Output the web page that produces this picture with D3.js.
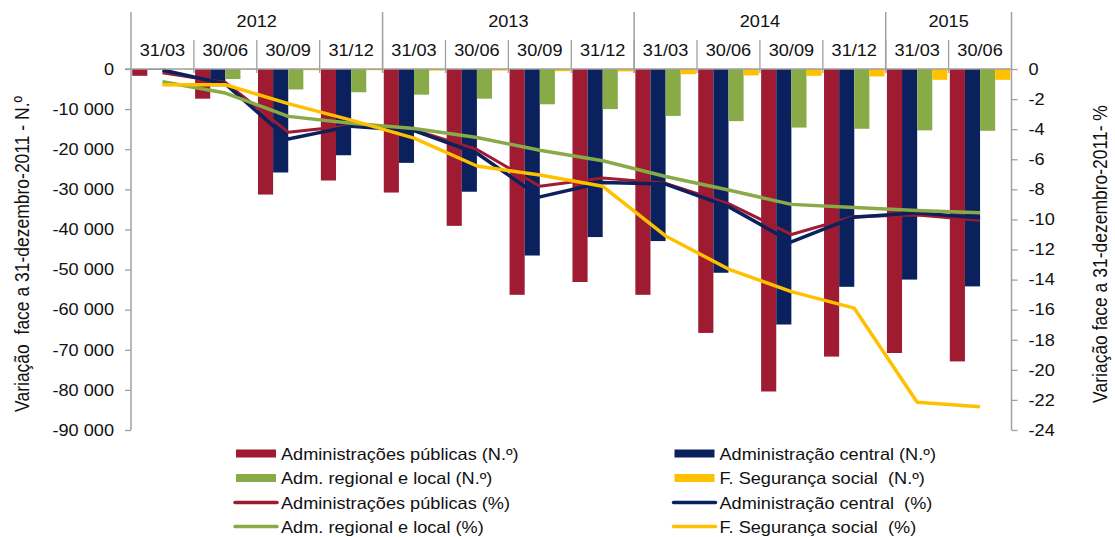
<!DOCTYPE html>
<html>
<head>
<meta charset="utf-8">
<script src="https://cdn.jsdelivr.net/npm/d3@7"></script>
<style>
  body { margin: 0; background: #fff; }
  svg { display: block; font-family: "Liberation Sans", Arial, sans-serif; }
  svg text { white-space: pre; }
</style>
</head>
<body>
<svg width="1115" height="537"></svg>
<script>
// categories (quarters) and year groups
var quarters = ["31/03","30/06","30/09","31/12","31/03","30/06","30/09","31/12","31/03","30/06","30/09","31/12","31/03","30/06"];
var years = ["2012","2013","2014","2015"];
var yearSpans = [4, 4, 4, 2];

// N.º (left axis, bars)
var adminPublicasN = [-1700, -7400, -31300, -27800, -30800, -39100, -56300, -53100, -56300, -65800, -80400, -71700, -70800, -72900];
var adminCentralN  = [-150, -4300, -25800, -21500, -23400, -30600, -46500, -41900, -42900, -50800, -63700, -54300, -52500, -54200];
var admRegionalN   = [-50, -2500, -5100, -5800, -6400, -7400, -8800, -10000, -11700, -13000, -14600, -14900, -15300, -15400];
var segSocialN     = [-100, -200, -300, -300, -400, -400, -550, -600, -1300, -1600, -1700, -1850, -2700, -2700];

// % (right axis, lines)
var adminPublicasPct = [-0.25, -0.9, -4.2, -3.75, -4.05, -5.35, -7.8, -7.25, -7.6, -8.95, -11.0, -9.8, -9.7, -10.05];
var adminCentralPct  = [-0.07, -1.0, -4.65, -3.8, -4.1, -5.6, -8.5, -7.55, -7.65, -9.15, -11.5, -9.85, -9.55, -9.9];
var admRegionalPct   = [-0.85, -1.6, -3.15, -3.6, -3.95, -4.55, -5.4, -6.1, -7.15, -8.05, -9.0, -9.2, -9.4, -9.55];
var segSocialPct     = [-1.05, -1.05, -2.3, -3.4, -4.6, -6.45, -7.05, -7.8, -11.1, -13.3, -14.8, -15.9, -22.15, -22.45];

var leftTicks = [0, -10000, -20000, -30000, -40000, -50000, -60000, -70000, -80000, -90000];
var rightTicks = [0, -2, -4, -6, -8, -10, -12, -14, -16, -18, -20, -22, -24];

var barSeries = [
  {name: "Administrações públicas (N.º)", values: adminPublicasN, color: "#9e1b32"},
  {name: "Administração central (N.º)", values: adminCentralN, color: "#0b215d"},
  {name: "Adm. regional e local (N.º)", values: admRegionalN, color: "#89ab47"},
  {name: "F. Segurança social  (N.º)", values: segSocialN, color: "#ffc000"}
];
var lineSeries = [
  {name: "Administrações públicas (%)", values: adminPublicasPct, color: "#9e1b32", width: 3},
  {name: "Administração central  (%)", values: adminCentralPct, color: "#0b215d", width: 3.5},
  {name: "Adm. regional e local (%)", values: admRegionalPct, color: "#89ab47", width: 3.5},
  {name: "F. Segurança social  (%)", values: segSocialPct, color: "#ffc000", width: 3.5}
];

var plot = {left: 131, right: 1011.5, top: 69, bottom: 430, header: 12};
var axisColor = "#a0a0a0";
var fontSize = 16.5;
var stretch = 1.1;

var svg = d3.select("svg");
var idx = d3.range(quarters.length);

var xScale = d3.scaleBand().domain(idx).range([plot.left, plot.right]).padding(0);
var inner = d3.scaleBand().domain(d3.range(barSeries.length))
  .range([0, xScale.bandwidth()]).paddingOuter(0.04 * 4 / 2).paddingInner(0);
var yLeft = d3.scaleLinear().domain([-90000, 0]).range([plot.bottom, plot.top]);
var yRight = d3.scaleLinear().domain([-24, 0]).range([plot.bottom, plot.top]);

var loc = d3.formatLocale({decimal: ",", thousands: " ", grouping: [3], currency: ["", ""], minus: "-"});
var fmt = loc.format(",");

// widen text horizontally a bit, like the reference
var widen = function(sel)
{
  sel.each(function(){
    var len = this.getComputedTextLength();
    d3.select(this).attr("textLength", len * stretch).attr("lengthAdjust", "spacingAndGlyphs");
  });
}

// bars
barSeries.forEach(function(s, si){
  svg.append("g").attr("fill", s.color)
    .selectAll("rect")
    .data(s.values)
    .enter()
    .append("rect")
    .attr("x", function(d, i){ return xScale(i) + inner(si); })
    .attr("width", inner.bandwidth())
    .attr("y", yLeft(0))
    .attr("height", function(d){ return yLeft(d) - yLeft(0); });
});

// lines
var lineGen = function(){
  return d3.line()
    .x(function(d, i){ return xScale(i) + xScale.bandwidth() / 2; })
    .y(function(d){ return yRight(d); });
}
lineSeries.forEach(function(s){
  svg.append("path")
    .datum(s.values)
    .attr("fill", "none")
    .attr("stroke", s.color)
    .attr("stroke-width", s.width)
    .attr("stroke-linejoin", "round")
    .attr("d", lineGen());
});

// left axis
var leftAxis = svg.append("g")
  .attr("transform", "translate(" + plot.left + ",0)")
  .call(d3.axisLeft(yLeft).tickValues(leftTicks).tickFormat(fmt).tickSize(6).tickPadding(11));
// right axis
var rightAxis = svg.append("g")
  .attr("transform", "translate(" + plot.right + ",0)")
  .call(d3.axisRight(yRight).tickValues(rightTicks).tickFormat(function(d){ return d === 0 ? "0" : "-" + Math.abs(d); }).tickSize(6).tickPadding(11));

[leftAxis, rightAxis].forEach(function(ax){
  ax.select(".domain").remove();
  ax.selectAll("line").attr("stroke", axisColor).attr("stroke-width", 1.3);
  ax.selectAll("text").attr("font-size", fontSize).attr("fill", "#111").call(widen);
});

// axis lines, extended up through the header
svg.append("line").attr("x1", plot.left).attr("x2", plot.left).attr("y1", plot.header).attr("y2", plot.bottom)
  .attr("stroke", axisColor).attr("stroke-width", 1.5);
svg.append("line").attr("x1", plot.right).attr("x2", plot.right).attr("y1", plot.header).attr("y2", plot.bottom)
  .attr("stroke", axisColor).attr("stroke-width", 1.5);
svg.append("line").attr("x1", plot.left - 6).attr("x2", plot.right).attr("y1", yLeft(0)).attr("y2", yLeft(0))
  .attr("stroke", axisColor).attr("stroke-width", 1.5);

// header: quarter separators and labels
var header = svg.append("g");
header.selectAll("line.q")
  .data(idx.slice(1))
  .enter()
  .append("line")
  .attr("x1", function(i){ return xScale(i); })
  .attr("x2", function(i){ return xScale(i); })
  .attr("y1", 40).attr("y2", 73)
  .attr("stroke", axisColor).attr("stroke-width", 1.3);

header.selectAll("text.q")
  .data(quarters)
  .enter()
  .append("text")
  .attr("x", function(d, i){ return xScale(i) + xScale.bandwidth() / 2; })
  .attr("y", 56)
  .attr("text-anchor", "middle")
  .attr("font-size", fontSize)
  .attr("fill", "#111")
  .text(function(d){ return d; })
  .call(widen);

// header: year separators and labels
var starts = [0];
yearSpans.forEach(function(n, i){ starts.push(starts[i] + n); });
header.selectAll("line.y")
  .data(starts.slice(1, -1))
  .enter()
  .append("line")
  .attr("x1", function(i){ return xScale(i); })
  .attr("x2", function(i){ return xScale(i); })
  .attr("y1", plot.header).attr("y2", 73)
  .attr("stroke", axisColor).attr("stroke-width", 1.5);

header.selectAll("text.y")
  .data(years)
  .enter()
  .append("text")
  .attr("x", function(d, i){
    var a = xScale(starts[i]);
    var b = xScale(starts[i + 1] - 1) + xScale.bandwidth();
    return (a + b) / 2;
  })
  .attr("y", 26.5)
  .attr("text-anchor", "middle")
  .attr("font-size", fontSize)
  .attr("fill", "#111")
  .text(function(d){ return d; })
  .call(widen);

// axis titles
svg.append("text")
  .attr("transform", "translate(29,254) rotate(-90) scale(1,1.15)")
  .attr("text-anchor", "middle")
  .attr("font-size", 17.5)
  .attr("fill", "#111")
  .text("Variação  face a 31-dezembro-2011 - N.º");
svg.append("text")
  .attr("transform", "translate(1107,254) rotate(-90) scale(1,1.15)")
  .attr("text-anchor", "middle")
  .attr("font-size", 17.5)
  .attr("fill", "#111")
  .text("Variação face a 31-dezembro-2011- %");

// legend
var legendItems = [
  {s: barSeries[0], type: "bar"}, {s: barSeries[1], type: "bar"},
  {s: barSeries[2], type: "bar"}, {s: barSeries[3], type: "bar"},
  {s: lineSeries[0], type: "line"}, {s: lineSeries[1], type: "line"},
  {s: lineSeries[2], type: "line"}, {s: lineSeries[3], type: "line"}
];
var colX = [236, 674.5];
var rowY = [453.5, 478, 502.5, 526.5];

var legend = svg.selectAll("g.legend")
  .data(legendItems)
  .enter()
  .append("g")
  .attr("transform", function(d, i){ return "translate(" + colX[i % 2] + "," + rowY[Math.floor(i / 2)] + ")"; });

legend.filter(function(d){ return d.type === "bar"; })
  .append("rect")
  .attr("x", 0).attr("y", -4).attr("width", 40).attr("height", 8)
  .attr("fill", function(d){ return d.s.color; });

legend.filter(function(d){ return d.type === "line"; })
  .append("line")
  .attr("x1", -1).attr("x2", 41).attr("y1", 0).attr("y2", 0)
  .attr("stroke", function(d){ return d.s.color; })
  .attr("stroke-width", 3.5)
  .attr("stroke-linecap", "round");

legend.append("text")
  .attr("x", 45)
  .attr("y", 6)
  .attr("font-size", fontSize)
  .attr("fill", "#111")
  .text(function(d){ return d.s.name; })
  .call(widen);
</script>
</body>
</html>
